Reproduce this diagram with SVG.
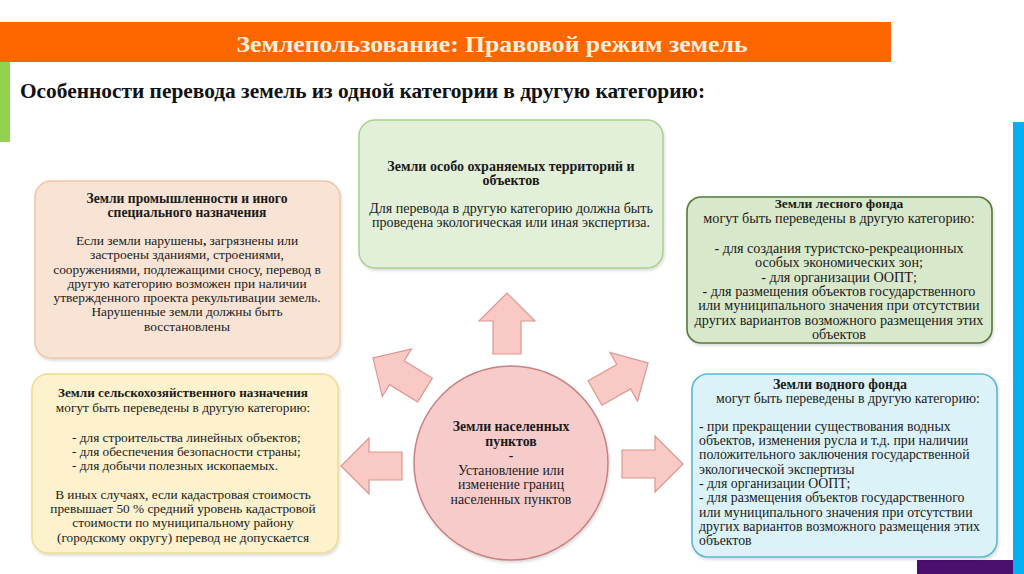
<svg xmlns="http://www.w3.org/2000/svg" width="1024" height="574" viewBox="0 0 1024 574">
<style>
  .t{font-family:"Liberation Serif","Times New Roman",serif;font-size:13px;fill:#1a1a1a}
  .b{font-weight:bold}
  .c{text-anchor:middle}
  .arrow{fill:#f8c9c5;stroke:#df9590;stroke-width:1.2}
  #industry .t{font-size:13.4px}
  #industry .b{font-size:13.6px}
  #protected .t{font-size:14px}
  #forest .t{font-size:14.2px}
  #forest .b{font-size:13.5px}
  #agri .t{font-size:13.3px}
  #agri .b{font-size:13.2px}
  #water .t{font-size:13.8px}
  #water .b{font-size:14px}
  #settlements .t{font-size:13.8px}
  .box{filter:url(#sh)}
</style>
<defs>
  <path id="arr" d="M0,-14 L33,-14 L33,-28 L61,0 L33,28 L33,14 L0,14 Z"/>
  <filter id="sh" x="-5%" y="-5%" width="110%" height="115%">
    <feDropShadow dx="1" dy="2" stdDeviation="1.5" flood-color="#000" flood-opacity="0.15"/>
  </filter>
</defs>
<rect width="1024" height="574" fill="#ffffff"/>
<!-- decorations -->
<rect x="0" y="22" width="891" height="40" fill="#fe6600"/>
<rect x="0" y="62" width="10" height="80" fill="#92d050"/>
<rect x="1013" y="122" width="11" height="452" fill="#00b0f0"/>
<rect x="917" y="560" width="96" height="14" fill="#4b0f6e"/>
<text x="492" y="52" text-anchor="middle" style="font-family:'Liberation Serif',serif;font-weight:bold;font-size:24px" fill="#fdf0dc" textLength="511" lengthAdjust="spacingAndGlyphs">Землепользование: Правовой режим земель</text>
<text x="20" y="98" style="font-family:'Liberation Serif',serif;font-weight:bold;font-size:22px" fill="#111" textLength="685" lengthAdjust="spacingAndGlyphs">Особенности перевода земель из одной категории в другую категорию:</text>

<g id="connectors">
  <use href="#arr" class="arrow" transform="translate(507,354) rotate(-90)"/>
  <use href="#arr" class="arrow" transform="translate(402,466) rotate(180)"/>
  <use href="#arr" class="arrow" transform="translate(622,464)"/>
  <use href="#arr" class="arrow" transform="translate(425,390) rotate(211.6)"/>
  <use href="#arr" class="arrow" transform="translate(595,393) rotate(-29.5)"/>
</g>

<g id="industry">
  <rect class="box" x="35" y="181" width="305" height="177" rx="16" fill="#f8e3d4" stroke="#efc6a6" stroke-width="1.5"/>
  <text class="t b c" x="187" y="203">Земли промышленности и иного</text>
  <text class="t b c" x="187" y="217">специального назначения</text>
  <text class="t c" x="187" y="245">Если земли нарушены<tspan font-weight="bold">,</tspan> загрязнены или</text>
  <text class="t c" x="187" y="259">застроены зданиями, строениями,</text>
  <text class="t c" x="187" y="274">сооружениями, подлежащими сносу, перевод в</text>
  <text class="t c" x="187" y="288">другую категорию возможен при наличии</text>
  <text class="t c" x="187" y="302">утвержденного проекта рекультивации земель.</text>
  <text class="t c" x="187" y="316">Нарушенные земли должны быть</text>
  <text class="t c" x="187" y="331">восстановлены</text>
</g>

<g id="protected">
  <rect class="box" x="359" y="120" width="304" height="148" rx="16" fill="#e2efd9" stroke="#a9cf8f" stroke-width="1.5"/>
  <text class="t b c" x="511" y="171">Земли особо охраняемых территорий и</text>
  <text class="t b c" x="511" y="185">объектов</text>
  <text class="t c" x="511" y="213">Для перевода в другую категорию должна быть</text>
  <text class="t c" x="511" y="227">проведена экологическая или иная экспертиза.</text>
</g>

<g id="forest">
  <rect class="box" x="687" y="197" width="305" height="146" rx="14" fill="#d8e8cb" stroke="#56783a" stroke-width="1.6"/>
  <text class="t b c" x="839" y="208">Земли лесного фонда</text>
  <text class="t c" x="839" y="223">могут быть переведены в другую категорию:</text>
  <text class="t c" x="839" y="253">- для создания туристско-рекреационных</text>
  <text class="t c" x="839" y="267">особых экономических зон;</text>
  <text class="t c" x="839" y="282">- для организации ООПТ;</text>
  <text class="t c" x="839" y="296">- для размещения объектов государственного</text>
  <text class="t c" x="839" y="310">или муниципального значения при отсутствии</text>
  <text class="t c" x="839" y="325">других вариантов возможного размещения этих</text>
  <text class="t c" x="839" y="339">объектов</text>
</g>

<g id="agri">
  <rect class="box" x="32" y="374" width="306" height="179" rx="16" fill="#fdf2cd" stroke="#efdb92" stroke-width="1.5"/>
  <text class="t b c" x="183" y="397">Земли сельскохозяйственного назначения</text>
  <text class="t c" x="183" y="412">могут быть переведены в другую категорию:</text>
  <text class="t" x="72" y="442">- для строительства линейных объектов;</text>
  <text class="t" x="72" y="456">- для обеспечения безопасности страны;</text>
  <text class="t" x="72" y="470">- для добычи полезных ископаемых.</text>
  <text class="t c" x="183" y="499">В иных случаях, если кадастровая стоимость</text>
  <text class="t c" x="183" y="513">превышает 50 % средний уровень кадастровой</text>
  <text class="t c" x="183" y="527">стоимости по муниципальному району</text>
  <text class="t c" x="183" y="542">(городскому округу) перевод не допускается</text>
</g>

<g id="water">
  <rect class="box" x="692" y="374" width="305" height="183" rx="16" fill="#dbf2f8" stroke="#5fb6d6" stroke-width="1.6"/>
  <text class="t b c" x="840" y="389">Земли водного фонда</text>
  <text class="t c" x="848" y="403">могут быть переведены в другую категорию:</text>
  <text class="t" x="699" y="431">- при прекращении существования водных</text>
  <text class="t" x="699" y="445">объектов, изменения русла и т.д. при наличии</text>
  <text class="t" x="699" y="459">положительного заключения государственной</text>
  <text class="t" x="699" y="474">экологической экспертизы</text>
  <text class="t" x="699" y="488">- для организации ООПТ;</text>
  <text class="t" x="699" y="502">- для размещения объектов государственного</text>
  <text class="t" x="699" y="517">или муниципального значения при отсутствии</text>
  <text class="t" x="699" y="531">других вариантов возможного размещения этих</text>
  <text class="t" x="699" y="545">объектов</text>
</g>

<g id="settlements">
  <circle class="box" cx="511" cy="463" r="97" fill="#f8cbcb" stroke="#c98282" stroke-width="1.5"/>
  <text class="t b c" x="511" y="431">Земли населенных</text>
  <text class="t b c" x="511" y="446">пунктов</text>
  <text class="t b c" x="511" y="460">-</text>
  <text class="t c" x="511" y="475">Установление или</text>
  <text class="t c" x="511" y="489">изменение границ</text>
  <text class="t c" x="511" y="504">населенных пунктов</text>
</g>
</svg>
